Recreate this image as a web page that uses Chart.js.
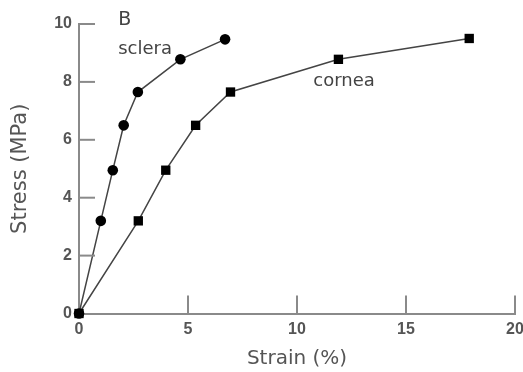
<!DOCTYPE html>
<html><head><meta charset="utf-8">
<script src="https://cdn.jsdelivr.net/npm/chart.js@4/dist/chart.umd.min.js"></script>
<style>html,body{margin:0;padding:0;background:#fff}#wrap{width:523px;height:372px}</style>
</head><body><div id="wrap"><canvas id="c" width="523" height="372"></canvas></div>
<script>
const scleraStrain = [0, 1.0, 1.55, 2.05, 2.7, 4.65, 6.7];
const scleraStress = [0, 3.2, 4.95, 6.5, 7.65, 8.78, 9.47];
const corneaStrain = [0, 2.72, 3.98, 5.35, 6.95, 11.9, 17.9];
const corneaStress = [0, 3.2, 4.95, 6.5, 7.65, 8.78, 9.5];
const xTicks = [0, 5, 10, 15, 20];
const yTicks = [0, 2, 4, 6, 8, 10];
const notes = [
  {text: 'B', x: 1.8, y: 10.12, size: 19},
  {text: 'sclera', x: 1.8, y: 9.13, size: 18},
  {text: 'cornea', x: 10.75, y: 8.03, size: 18}
];

const FONT = "'DejaVu Sans', Verdana, sans-serif";
const TFONT = "'Liberation Sans', Arial, sans-serif";
const AXIS = '#8a8a8a';
const TXT = '#555';

const pts = (xs, ys) => xs.map((v, i) => ({x: v, y: ys[i]}));

const innerTicks = {
  id: 'innerTicks',
  afterDatasetsDraw(chart) {
    const ctx = chart.ctx, xs = chart.scales.x, ys = chart.scales.y;
    ctx.save();
    ctx.strokeStyle = AXIS; ctx.lineWidth = 2;
    const y0 = ys.getPixelForValue(0), x0 = xs.getPixelForValue(0);
    xTicks.forEach(v => { if (v === 0) return; const p = xs.getPixelForValue(v);
      ctx.beginPath(); ctx.moveTo(p, y0); ctx.lineTo(p, y0 - 18); ctx.stroke(); });
    yTicks.forEach(v => { if (v === 0) return; const p = ys.getPixelForValue(v);
      ctx.beginPath(); ctx.moveTo(x0, p); ctx.lineTo(x0 + 16, p); ctx.stroke(); });
    ctx.fillStyle = '#444'; ctx.textBaseline = 'middle'; ctx.textAlign = 'left';
    notes.forEach(n => { ctx.font = n.size + 'px ' + FONT;
      ctx.fillText(n.text, xs.getPixelForValue(n.x), ys.getPixelForValue(n.y)); });
    ctx.restore();
  }
};

new Chart(document.getElementById('c'), {
  type: 'scatter',
  data: { datasets: [
    { label: 'sclera', data: pts(scleraStrain, scleraStress), showLine: true, clip: false,
      borderColor: '#444', borderWidth: 1.5, pointStyle: 'circle', pointRadius: 5.3,
      pointBackgroundColor: '#000', pointBorderColor: '#000', pointBorderWidth: 0 },
    { label: 'cornea', data: pts(corneaStrain, corneaStress), showLine: true, clip: false,
      borderColor: '#444', borderWidth: 1.5, pointStyle: 'rect', pointRadius: 6.6,
      pointBackgroundColor: '#000', pointBorderColor: '#000', pointBorderWidth: 0 }
  ]},
  options: {
    responsive: false, animation: false, events: [],
    layout: { padding: { top: 24, right: 0, left: 0, bottom: 0 } },
    plugins: { legend: { display: false }, tooltip: { enabled: false } },
    scales: {
      x: { type: 'linear', min: 0, max: 20,
        afterBuildTicks: s => { s.ticks = xTicks.map(v => ({value: v})); },
        afterFit: s => { s.height = 372 - 313.5; s.paddingRight = 8; s.paddingLeft = 0; },
        grid: { display: false, drawTicks: false },
        border: { display: true, color: AXIS, width: 2 },
        ticks: { padding: 6, color: TXT, font: { family: TFONT, size: 16, weight: 'bold' } },
        title: { display: true, text: 'Strain (%)', color: TXT, padding: { top: 0, bottom: 1 },
          font: { family: FONT, size: 20 } } },
      y: { type: 'linear', min: 0, max: 10,
        afterBuildTicks: s => { s.ticks = yTicks.map(v => ({value: v})); },
        afterFit: s => { s.width = 79; },
        grid: { display: false, drawTicks: false },
        border: { display: true, color: AXIS, width: 2 },
        ticks: { padding: 7, color: TXT, font: { family: TFONT, size: 16, weight: 'bold' } },
        title: { display: true, text: 'Stress (MPa)', color: TXT, padding: { top: 8, bottom: 0 },
          font: { family: FONT, size: 21 } } }
    }
  },
  plugins: [innerTicks]
});
</script></body></html>
